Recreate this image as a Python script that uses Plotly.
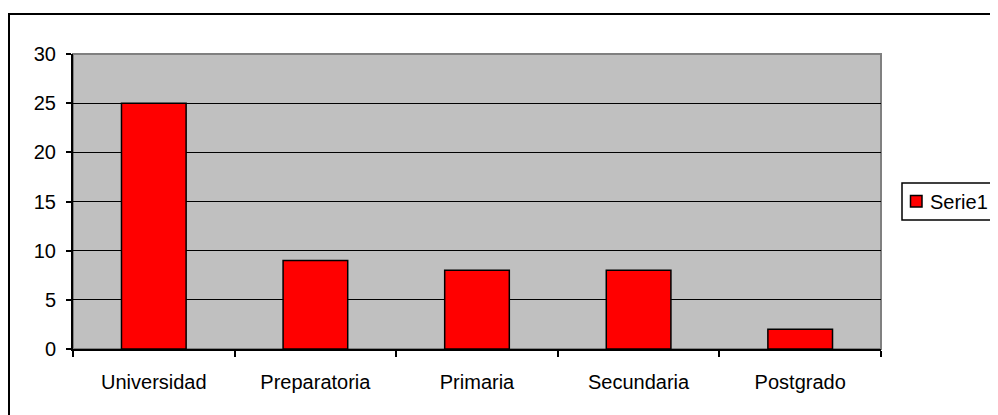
import plotly.graph_objects as go

# datos
categorias = ["Universidad", "Preparatoria", "Primaria", "Secundaria", "Postgrado"]
valores = [25, 9, 8, 8, 2]
serie = "Serie1"
y_ticks = [0, 5, 10, 15, 20, 25, 30]

# the page body adds an 8px margin at top/left; figure runs to the window edge
OFF = 8
W, H = 998 - OFF, 415 - OFF
L, T = 73 - OFF, 54 - OFF
R = W - (881 - OFF)
B = H - (349 - OFF)
pw, ph = W - L - R, H - T - B
ROJO = "#FF0000"

fig = go.Figure()
fig.add_trace(go.Bar(
    x=categorias, y=valores, name=serie,
    marker=dict(color=ROJO, line=dict(color="black", width=1.5)),
    showlegend=False,
))


# page pixel -> paper coords
def px_x(v):
    return (v - OFF - L) / pw


def px_y(v):
    return (H - B - (v - OFF)) / ph


# marco exterior
fig.add_shape(type="rect", xref="paper", yref="paper",
              x0=px_x(9), x1=px_x(1010), y0=px_y(430), y1=px_y(14),
              line=dict(color="black", width=2), layer="below")
# borde gris del area de trazado
fig.add_shape(type="rect", xref="paper", yref="paper",
              x0=0, x1=1, y0=0, y1=1,
              line=dict(color="#808080", width=2), layer="below")

# leyenda estilo Excel (caja + muestra + texto)
fig.add_shape(type="rect", xref="paper", yref="paper",
              x0=px_x(902), x1=px_x(1010), y0=px_y(220), y1=px_y(183),
              line=dict(color="black", width=1.5), fillcolor="white")
fig.add_shape(type="rect", xref="paper", yref="paper",
              x0=px_x(910.5), x1=px_x(922), y0=px_y(207), y1=px_y(195.5),
              line=dict(color="black", width=1.5), fillcolor=ROJO)
fig.add_annotation(text=serie, xref="paper", yref="paper",
                   x=px_x(928), y=px_y(202), xanchor="left", yanchor="middle",
                   showarrow=False, font=dict(size=20))

fig.update_layout(
    width=W, height=H,
    margin=dict(l=L, r=R, t=T, b=B, autoexpand=False),
    paper_bgcolor="white",
    plot_bgcolor="#C0C0C0",
    font=dict(family="Liberation Sans, Arial, sans-serif", size=20, color="black"),
    bargap=0.6,
    showlegend=False,
    xaxis=dict(showline=True, linecolor="black", linewidth=2,
               ticks="outside", ticklen=6, tickwidth=1.5, tickcolor="black",
               tickson="boundaries", showgrid=False, zeroline=False,
               ticklabelstandoff=14),
    yaxis=dict(range=[0, 30], tickvals=y_ticks, showline=True,
               linecolor="black", linewidth=2,
               ticks="outside", ticklen=5, tickwidth=1.5, tickcolor="black",
               showgrid=True, gridcolor="black", gridwidth=1.2,
               zeroline=False, ticklabelstandoff=6),
)

fig.write_html("out.html")
